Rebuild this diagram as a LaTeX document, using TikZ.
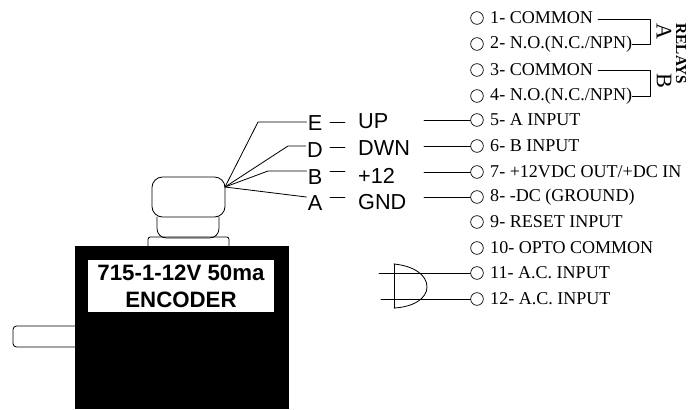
\documentclass[tikz,border=0pt]{standalone}
\usepackage{fontspec}
\setmainfont{Liberation Serif}
\setsansfont{Liberation Sans}
\usetikzlibrary{arrows}

\begin{document}
\begin{tikzpicture}[line cap=round,line join=round,x=0.03cm,y=-0.03cm,
  wire/.style={line width=0.7pt},
  term/.style={circle,draw,line width=0.6pt,inner sep=0pt,minimum size=0.38cm},
  termtext/.style={anchor=west,inner sep=0pt,font=\fontsize{15.4}{17}\selectfont},
  wirename/.style={inner sep=1pt,font=\sffamily\fontsize{18.5}{20}\selectfont},
  signame/.style={anchor=west,inner sep=0pt,font=\sffamily\fontsize{18.5}{20}\selectfont},
  relayname/.style={rotate=-90,inner sep=0pt,font=\fontsize{19}{22}\selectfont}]
\useasboundingbox (0,0) rectangle (694,409);

% encoder body
\draw[wire,rounded corners=3pt] (75,326) -- (13,326) -- (13,347) -- (75,347);
\fill[color=black] (75,246) rectangle (289,409);
\fill[color=white] (88,260) rectangle (274,312);
\draw (181,286) node[align=center,text=black,font=\sffamily\bfseries\fontsize{19}{23}\selectfont] (nameenc) {715-1-12V 50ma\\ENCODER};
\draw[wire,rounded corners=2pt] (148,246) -- (148,237) -- (229,237) -- (229,246);
\draw[wire,rounded corners=8pt] (157,217) -- (157,238) -- (219,238) -- (219,217);
\draw[wire,rounded corners=9pt] (152,177) rectangle (225,217);

% wires out of the encoder
\coordinate (wp) at (225,187);
\draw (315,123) node[wirename] (wE) {E};
\draw (315,150) node[wirename] (wD) {D};
\draw (315,177) node[wirename] (wB) {B};
\draw (315,203) node[wirename] (wA) {A};
\draw[wire] (wp) -- (258,122) -- (wE.west |- 0,122);
\draw[wire] (wp) -- (288,146) -- (wD.west |- 0,146);
\draw[wire] (wp) -- (268,171) -- (wB.west |- 0,171);
\draw[wire] (wp) -- (wA.west |- 0,197);
\foreach \y in {122,147,171,197}
\draw[wire] (330,\y) -- (345,\y);
\draw (358,121) node[signame] (sUP) {UP};
\draw (358,148) node[signame] (sDWN) {DWN};
\draw (358,176) node[signame] (sPOS) {+12};
\draw (358,202) node[signame] (sGND) {GND};

% terminals
\foreach \n/\y/\t in {1/18/{1- COMMON},2/44/{2- N.O.(N.C./NPN)},3/70/{3- COMMON},4/96/{4- N.O.(N.C./NPN)},
  5/120/{5- A INPUT},6/146/{6- B INPUT},7/172/{7- +12VDC OUT/+DC IN},8/197/{8- -DC (GROUND)},
  9/222/{9- RESET INPUT},10/248/{10- OPTO COMMON},11/273/{11- A.C. INPUT},12/299/{12- A.C. INPUT}}
{
\node[term] (t\n) at (477,\y) {};
\node[termtext] (l\n) at (490,\y) {\t};
}

\coordinate (c5) at (424,120);
\coordinate (c6) at (424,146);
\coordinate (c7) at (424,172);
\coordinate (c8) at (424,197);
\coordinate (c11) at (379,273);
\coordinate (c12) at (381,299);
\foreach \n in {5,6,7,8,11,12}
\draw[wire] (c\n) -- (t\n);

% relays
\draw[wire] (598,19) -- (650,19) -- (650,44) -- (l2.east);
\draw[wire] (598,70) -- (650,70) -- (650,96) -- (l4.east);
\draw (664,32) node[relayname] (relA) {A};
\draw (664,81) node[relayname] (relB) {B};
\draw (681,54) node[rotate=-90,inner sep=0pt,font=\bfseries\fontsize{13}{15}\selectfont] (relays) {RELAYS};

% rectifier
\draw[wire] (394,264) -- (394,308);
\draw[wire] (394,264) .. controls (414,266) and (427,275) .. (427,287) .. controls (427,298) and (414,307) .. (394,308);
\end{tikzpicture}
\end{document}
